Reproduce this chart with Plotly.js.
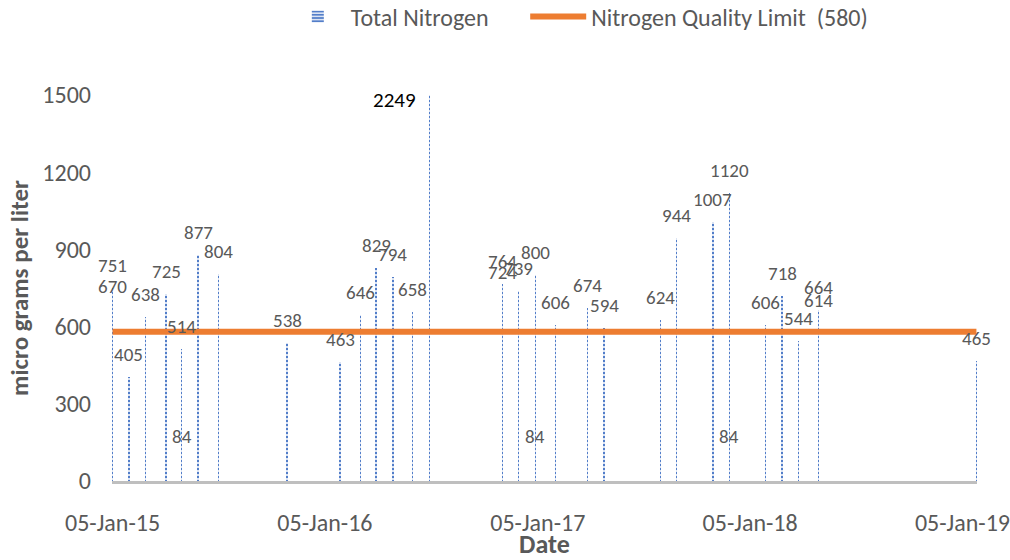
<!DOCTYPE html>
<html>
<head>
<meta charset="utf-8">
<script src="https://cdn.plot.ly/plotly-3.0.1.min.js"></script>
<style>
  html, body { margin: 0; padding: 0; background: #fff; }
  #chart { width: 1010px; height: 560px; }
</style>
</head>
<body>
<div id="chart"></div>
<script>
// sample dates (same date appears twice where two samples were taken)
const sampleDates = [
  '2015-01-05', '2015-01-05', '2015-02-02', '2015-03-02', '2015-04-07',
  '2015-05-04', '2015-05-04', '2015-06-01', '2015-07-06', '2015-11-01',
  '2016-01-31', '2016-03-06', '2016-04-02', '2016-05-01', '2016-06-04',
  '2016-07-03', '2016-11-05', '2016-11-05', '2016-12-03', '2017-01-01',
  '2017-01-01', '2017-02-05', '2017-04-01', '2017-04-29', '2017-08-04',
  '2017-09-01', '2017-11-02', '2017-11-30', '2017-11-30', '2018-02-01',
  '2018-03-01', '2018-03-29', '2018-05-03', '2018-05-03', '2019-01-29'
];
const totalNitrogen = [
  751, 670, 405, 638, 725,
  514, 84, 877, 804, 538,
  463, 646, 829, 794, 658,
  2249, 764, 724, 739, 800,
  84, 606, 674, 594, 624,
  944, 1007, 1120, 84, 606,
  718, 544, 664, 614, 465
];
const qualityLimit = 580;
const tickDates = ['2015-01-05', '2016-01-05', '2017-01-05', '2018-01-05', '2019-01-05'];
const yTicks = [0, 300, 600, 900, 1200, 1500];

const FONT = 'Carlito, Lato, "Open Sans", sans-serif';
const GREY = '#595959';
const yMax = 1500;
const DAY = 86400000;

// second sample on the same day goes to its own trace so bars overlap instead of stacking
const first = { x: [], y: [] };
const second = { x: [], y: [] };
sampleDates.forEach((d, i) => {
  const target = (i > 0 && sampleDates[i - 1] === d) ? second : first;
  target.x.push(d);
  target.y.push(totalNitrogen[i]);
});

const barStyle = {
  color: '#8faadc',
  line: { width: 0 },
  pattern: { shape: '-', fgcolor: '#4472C4', bgcolor: '#dae3f3', size: 4, solidity: 0.45 }
};

const bars = [first, second].map((s, k) => ({
  type: 'bar',
  name: 'Total Nitrogen',
  legendgroup: 'tn',
  showlegend: k === 0,
  x: s.x,
  y: s.y,
  width: s.x.map(() => 2.2 * DAY),
  marker: barStyle,
  hoverinfo: 'x+y'
}));

const limitLine = {
  type: 'scatter',
  mode: 'lines',
  name: 'Nitrogen Quality Limit  (580)',
  legend: 'legend2',
  x: [sampleDates[0], sampleDates[sampleDates.length - 1]],
  y: [qualityLimit, qualityLimit],
  line: { color: '#ED7D31', width: 6 }
};

// value labels above each bar; the off-scale one is drawn beside the clipped top
const labels = sampleDates.map((d, i) => {
  const v = totalNitrogen[i];
  if (v > yMax) {
    return {
      x: d, y: yMax, text: String(v), showarrow: false,
      xanchor: 'center', yanchor: 'middle', xshift: -35, yshift: -5,
      font: { family: FONT, size: 21, color: '#000' }
    };
  }
  return {
    x: d, y: v, text: String(v), showarrow: false,
    xanchor: 'center', yanchor: 'bottom', yshift: 9,
    font: { family: FONT, size: 19, color: GREY }
  };
});

const legendBase = {
  orientation: 'h',
  xref: 'container', xanchor: 'left',
  yref: 'container', y: 0.97, yanchor: 'middle',
  font: { family: FONT, size: 24, color: GREY },
  itemwidth: 56
};

const layout = {
  width: 1010,
  height: 560,
  margin: { l: 112, r: 33, t: 95, b: 79 },
  paper_bgcolor: '#fff',
  plot_bgcolor: '#fff',
  font: { family: FONT, color: GREY },
  barmode: 'overlay',
  bargap: 0,
  showlegend: true,
  legend: Object.assign({}, legendBase, { x: 0.282 }),
  legend2: Object.assign({}, legendBase, { x: 0.52 }),
  xaxis: {
    type: 'date',
    range: ['2015-01-04', '2019-01-30'],
    tickmode: 'array',
    tickvals: tickDates,
    tickformat: '%d-%b-%y',
    tickfont: { family: FONT, size: 24, color: GREY },
    ticklabeloverflow: 'allow',
    ticks: '',
    ticklabelstandoff: 18,
    showgrid: false,
    zeroline: false,
    showline: true,
    linecolor: '#bfbfbf',
    linewidth: 3,
    title: { text: 'Date', font: { family: FONT, size: 26, color: GREY, weight: 'bold' }, standoff: 9 }
  },
  yaxis: {
    range: [0, yMax],
    tickmode: 'array',
    tickvals: yTicks,
    tickfont: { family: FONT, size: 24, color: GREY },
    ticks: '',
    ticklabelstandoff: 20,
    showgrid: false,
    zeroline: false,
    showline: false,
    title: { text: 'micro grams per liter', font: { family: FONT, size: 25, color: GREY, weight: 'bold' }, standoff: 6 }
  },
  annotations: labels
};

Plotly.newPlot('chart', [...bars, limitLine], layout, { displayModeBar: false, staticPlot: true });
</script>
</body>
</html>
